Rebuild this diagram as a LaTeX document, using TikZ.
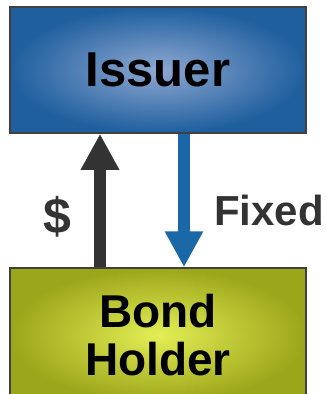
\documentclass[tikz,border=0pt]{standalone}
\usepackage{fontspec}
\setmainfont{Liberation Sans}
\usepackage{xcolor}
\usepackage{tikz}
\usetikzlibrary{arrows.meta}
\usetikzlibrary{positioning}

\definecolor{issuerEdge}{HTML}{1F5F9E}
\definecolor{issuerMid}{HTML}{8FA8D2}
\definecolor{holderEdge}{HTML}{9CA61A}
\definecolor{holderMid}{HTML}{E4EE55}
\definecolor{frameGray}{HTML}{404040}
\definecolor{cashGray}{HTML}{333333}
\definecolor{flowBlue}{HTML}{1A68A8}

\begin{document}
\begin{tikzpicture}[x=1pt, y=-1pt,
			block/.style={
					rectangle,
					draw=frameGray,
					line width=1.5pt,
					minimum width=296pt,
					align=center,
					font=\bfseries,
					inner sep=0pt
				},
			flow/.style={line width=12pt, -{Triangle[width=36pt,length=36pt]}},
			tag/.style={font=\fontsize{42}{44}\selectfont\bfseries, text=cashGray}
		]
		\clip (0,0) rectangle (326,394);
		\useasboundingbox (0,0) rectangle (326,394);
		% Place nodes
		\node [block, minimum height=126pt, inner color=issuerMid, outer color=issuerEdge,
			font=\fontsize{49}{54}\selectfont\bfseries] (issuer) at (158,70) {Issuer};
		\node [block, minimum height=134pt, inner color=holderMid, outer color=holderEdge,
			font=\fontsize{46}{54}\selectfont\bfseries] (holder) at (158,335) {Bond\\[-6pt]Holder};
		% Draw edges
		\draw [flow, cashGray] ([xshift=-58pt]holder.north) -- ([xshift=-58pt]issuer.south);
		\draw [flow, flowBlue] ([xshift=26pt]issuer.south) -- ([xshift=26pt]holder.north);
		\node [tag, font=\fontsize{50}{54}\selectfont\bfseries] (cash) at (57,217) {\$};
		\node [tag] (fixed) at (269,210) {Fixed};
	\end{tikzpicture}
\end{document}
